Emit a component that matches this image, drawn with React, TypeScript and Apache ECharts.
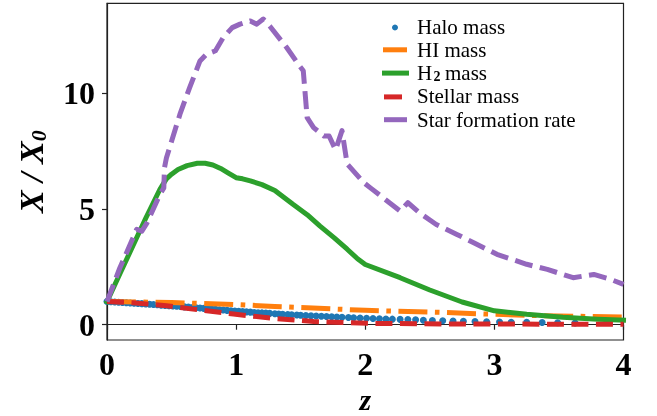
import React, { useEffect, useRef } from "react";
import * as echarts from "echarts";

// Halo mass (dotted markers)
const haloZ = [0.0, 0.03, 0.06, 0.09, 0.12, 0.15, 0.18, 0.21, 0.24, 0.27, 0.3, 0.33, 0.36, 0.39, 0.42, 0.45, 0.48, 0.51, 0.54, 0.57, 0.6, 0.63, 0.66, 0.69, 0.72, 0.75, 0.78, 0.81, 0.84, 0.87, 0.9, 0.93, 0.96, 0.99, 1.02, 1.05, 1.08, 1.11, 1.14, 1.17, 1.2, 1.23, 1.26, 1.3, 1.33, 1.36, 1.4, 1.43, 1.47, 1.5, 1.54, 1.58, 1.62, 1.66, 1.7, 1.74, 1.78, 1.82, 1.87, 1.91, 1.96, 2.01, 2.06, 2.11, 2.16, 2.21, 2.27, 2.33, 2.39, 2.45, 2.52, 2.6, 2.68, 2.76, 2.85, 2.94, 3.04, 3.13, 3.25, 3.37, 3.49, 3.625];
const haloY = [1.0, 0.99, 0.98, 0.97, 0.96, 0.95, 0.94, 0.93, 0.92, 0.91, 0.9, 0.885, 0.87, 0.86, 0.845, 0.83, 0.82, 0.81, 0.8, 0.785, 0.77, 0.76, 0.745, 0.73, 0.72, 0.705, 0.69, 0.68, 0.665, 0.65, 0.635, 0.62, 0.605, 0.59, 0.58, 0.57, 0.555, 0.545, 0.53, 0.52, 0.51, 0.5, 0.49, 0.47, 0.46, 0.45, 0.44, 0.43, 0.42, 0.41, 0.4, 0.385, 0.375, 0.365, 0.355, 0.345, 0.335, 0.32, 0.31, 0.3, 0.29, 0.28, 0.27, 0.26, 0.25, 0.24, 0.23, 0.22, 0.21, 0.195, 0.185, 0.17, 0.16, 0.15, 0.14, 0.13, 0.12, 0.11, 0.1, 0.095, 0.085, 0.075];

// HI mass
const hiZ = [0.0, 0.5, 1.0, 1.3, 2.0, 2.6, 3.0, 3.35, 4.0];
const hiY = [1.0, 0.96, 0.87, 0.79, 0.62, 0.53, 0.45, 0.39, 0.33];

// H2 mass
const h2Z = [0.0, 0.1, 0.2, 0.3, 0.41, 0.46, 0.5, 0.55, 0.62, 0.7, 0.76, 0.82, 0.88, 0.94, 1.0, 1.05, 1.11, 1.2, 1.3, 1.44, 1.55, 1.65, 1.76, 1.86, 1.94, 2.0, 2.27, 2.5, 2.75, 3.0, 3.25, 3.53, 3.8, 4.0];
const h2Y = [1.0, 2.2, 3.4, 4.6, 5.85, 6.3, 6.5, 6.7, 6.87, 6.97, 6.97, 6.9, 6.75, 6.55, 6.35, 6.3, 6.21, 6.05, 5.8, 5.2, 4.75, 4.26, 3.75, 3.26, 2.85, 2.6, 2.03, 1.5, 0.98, 0.6, 0.45, 0.32, 0.24, 0.2];

// Stellar mass
const starZ = [0.0, 0.2, 0.46, 0.7, 0.98, 1.29, 1.6, 2.04, 2.6, 4.0];
const starY = [1.0, 0.95, 0.82, 0.65, 0.46, 0.27, 0.14, 0.06, 0.03, 0.02];

// Star formation rate
const sfrZ = [0.0, 0.1, 0.19, 0.23, 0.27, 0.31, 0.41, 0.44, 0.445, 0.46, 0.565, 0.64, 0.72, 0.77, 0.84, 0.9, 0.97, 1.03, 1.11, 1.16, 1.21, 1.26, 1.39, 1.49, 1.52, 1.55, 1.6, 1.68, 1.72, 1.77, 1.82, 1.86, 1.99, 2.04, 2.27, 2.33, 2.42, 2.55, 2.71, 2.84, 3.02, 3.25, 3.41, 3.61, 3.77, 3.9, 4.0];
const sfrY = [1.0, 2.46, 3.6, 4.12, 4.04, 4.4, 5.63, 5.91, 6.78, 7.2, 9.09, 10.24, 11.39, 11.68, 11.83, 12.4, 12.83, 12.98, 13.12, 12.98, 13.2, 12.9, 11.98, 11.18, 10.97, 8.94, 8.51, 8.15, 8.15, 7.55, 8.38, 6.94, 6.13, 5.91, 4.91, 5.27, 4.83, 4.33, 3.9, 3.54, 3.04, 2.61, 2.39, 2.03, 2.17, 1.96, 1.74];

const xTicks = [0, 1, 2, 3, 4];
const yTicks = [0, 5, 10];
const legendNames = ["Halo mass", "HI mass", "H", "Stellar mass", "Star formation rate"];
const h2Sub = "2";
const h2Tail = "mass";

const zip = (a: number[], b: number[]) => a.map((v, i) => [v, b[i]]);

const C = {
  blue: "#1f77b4",
  orange: "#ff7f0e",
  green: "#2ca02c",
  red: "#d62728",
  purple: "#9467bd",
};
const SERIF = "'Liberation Serif', 'Times New Roman', serif";
const LW = 5;
const LEG_FS = 21;

export default function App() {
  const ref = useRef<HTMLDivElement>(null);
  useEffect(() => {
    const chart = echarts.init(ref.current!, null, { renderer: "svg" });
    const legendText = (x: number, y: number, text: string, size = LEG_FS, weight: any = "normal") => ({
      type: "text",
      x,
      y,
      style: {
        text,
        fontSize: size,
        fontFamily: SERIF,
        fontWeight: weight,
        fill: "#000",
        verticalAlign: "middle",
        align: "left",
      },
    });
    const handle = (x1: number, x2: number, y: number, color: string) => ({
      type: "line",
      shape: { x1, y1: y, x2, y2: y },
      style: { stroke: color, lineWidth: LW },
    });
    const rows = [26.5, 49.8, 73.1, 96.4, 119.7];
    chart.setOption({
      animation: false,
      grid: {
        left: 107,
        right: 33.5,
        top: 3.3,
        bottom: 76,
        show: true,
        borderColor: "#222",
        borderWidth: 1.2,
        outerBoundsMode: "none",
      },
      xAxis: {
        type: "value",
        min: 0,
        max: 4,
        interval: 1,
        name: "z",
        nameLocation: "middle",
        nameGap: 44,
        nameTextStyle: {
          fontFamily: SERIF,
          fontSize: 30,
          lineHeight: 28,
          fontWeight: "bold",
          fontStyle: "italic",
          color: "#000",
        },
        axisLine: { show: true, lineStyle: { color: "#222", width: 1.2 } },
        axisTick: { show: true, length: 5, lineStyle: { color: "#222", width: 1.2 }, customValues: xTicks },
        axisLabel: { margin: 8, fontFamily: SERIF, fontSize: 32, fontWeight: "bold", color: "#000", customValues: xTicks },
        splitLine: { show: false },
      },
      yAxis: {
        type: "value",
        min: -0.66,
        max: 13.88,
        name: "X / X{s|0}",
        nameLocation: "middle",
        nameRotate: 90,
        nameGap: 58,
        nameTextStyle: {
          fontFamily: SERIF,
          fontSize: 34,
          fontWeight: "bold",
          fontStyle: "italic",
          color: "#000",
          rich: { s: { fontFamily: SERIF, fontSize: 22, fontWeight: "bold", color: "#000", padding: [14, 0, 0, 0] } },
        },
        axisLine: { show: true, lineStyle: { color: "#222", width: 1.2 } },
        axisTick: { show: true, length: 5, lineStyle: { color: "#222", width: 1.2 }, customValues: yTicks },
        axisLabel: { margin: 12, fontFamily: SERIF, fontSize: 32, fontWeight: "bold", color: "#000", customValues: yTicks },
        splitLine: { show: false },
      },
      series: [
        {
          name: legendNames[0],
          type: "scatter",
          data: zip(haloZ, haloY),
          symbol: "circle",
          symbolSize: 7,
          itemStyle: { color: C.blue, opacity: 1 },
          z: 2,
        },
        {
          name: legendNames[1],
          type: "line",
          data: zip(hiZ, hiY),
          showSymbol: false,
          lineStyle: { color: C.orange, width: LW, type: [29, 7.5, 4.6, 7.5], cap: "butt", join: "round" },
          z: 3,
        },
        {
          name: "H2 mass",
          type: "line",
          data: zip(h2Z, h2Y),
          showSymbol: false,
          lineStyle: { color: C.green, width: LW, type: "solid", cap: "square", join: "round" },
          z: 4,
        },
        {
          name: legendNames[3],
          type: "line",
          data: zip(starZ, starY),
          showSymbol: false,
          lineStyle: { color: C.red, width: LW, type: [17, 7.5], cap: "butt", join: "round" },
          z: 5,
        },
        {
          name: legendNames[4],
          type: "line",
          data: zip(sfrZ, sfrY),
          showSymbol: false,
          lineStyle: { color: C.purple, width: LW, type: [18, 7.5], cap: "butt", join: "round" },
          z: 6,
        },
      ],
      graphic: [
        { type: "circle", shape: { cx: 395, cy: rows[0] + 1, r: 3 }, style: { fill: C.blue } },
        legendText(417, rows[0], legendNames[0]),
        handle(383, 407, rows[1], C.orange),
        legendText(417, rows[1], legendNames[1]),
        handle(382, 409, rows[2], C.green),
        legendText(417, rows[2], legendNames[2]),
        legendText(433.5, rows[2] + 3.5, h2Sub, 14, "bold"),
        legendText(445, rows[2], h2Tail),
        handle(384, 402, rows[3] + 0.5, C.red),
        legendText(417, rows[3], legendNames[3]),
        handle(384, 407, rows[4], C.purple),
        legendText(417, rows[4], legendNames[4]),
      ],
    });
    return () => chart.dispose();
  }, []);
  return <div ref={ref} style={{ position: "fixed", left: 0, top: 0, width: 657, height: 416 }} />;
}
